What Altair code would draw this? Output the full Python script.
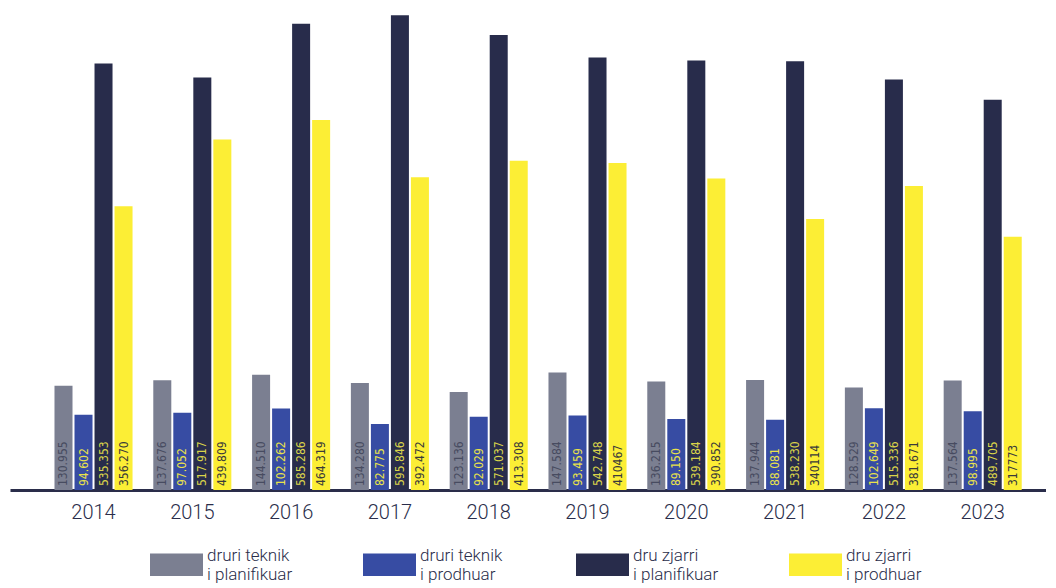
import altair as alt
import pandas as pd

years = ["2014", "2015", "2016", "2017", "2018", "2019", "2020", "2021", "2022", "2023"]
series = ["druri teknik\ni planifikuar", "druri teknik\ni prodhuar", "dru zjarri\ni planifikuar", "dru zjarri\ni prodhuar"]
gray_lbl = ["130.955", "137.676", "144.510", "134.280", "123.136", "147.584", "136.215", "137.944", "128.529", "137.564"]
blue_lbl = ["94.602", "97.052", "102.262", "82.775", "92.029", "93.459", "89.150", "88.081", "102.649", "98.995"]
dark_lbl = ["535.353", "517.917", "585.286", "595.846", "571.037", "542.748", "539.184", "538.230", "515.336", "489.705"]
yell_lbl = ["356.270", "439.809", "464.319", "392.472", "413.308", "410467", "390.852", "340114", "381.671", "317773"]
colors = ["#7b7f91", "#374ca3", "#282c4b", "#fcee35"]
text_colors = ["#474b60", "#e9e24a", "#d9d34a", "#3a3a3a"]

rows = []
for s, lbls, tc in zip(series, [gray_lbl, blue_lbl, dark_lbl, yell_lbl], text_colors):
    for y, l in zip(years, lbls):
        rows.append({"year": y, "series": s, "label": l,
                     "value": float(l.replace(".", "")) / 1000.0,
                     "base": 0.0, "tcolor": tc})
df = pd.DataFrame(rows)

x = alt.X("year:N", sort=years,
          scale=alt.Scale(paddingInner=0.21, paddingOuter=0.348, align=0.647),
          axis=alt.Axis(title=None, labelAngle=0, ticks=False, domainWidth=3,
                        domainColor="#2a2d4a", labelFont="Roboto", labelFontWeight=300,
                        labelFontSize=20, labelColor="#2a2d4a", labelPadding=12))
xo = alt.XOffset("series:N", sort=series, scale=alt.Scale(paddingInner=0.1, paddingOuter=0))
yscale = alt.Scale(domain=[0, 605], nice=False)

bars = alt.Chart(df).mark_bar().encode(
    x=x, xOffset=xo,
    y=alt.Y("value:Q", scale=yscale, axis=None),
    color=alt.Color("series:N", sort=series,
                    scale=alt.Scale(domain=series, range=colors),
                    legend=alt.Legend(title=None, orient="none", legendX=140, legendY=530,
                                      direction="horizontal", columns=4, gridAlign="all",
                                      columnPadding=70, labelOffset=4,
                                      labelFont="Roboto", labelFontWeight=300,
                                      labelFontSize=17, labelColor="#2a2d4a", labelLimit=250,
                                      labelBaseline="bottom",
                                      labelExpr="split(datum.label, '\\n')",
                                      symbolType="M-1,-0.42H1V0.42H-1Z", symbolSize=2809,
                                      symbolStrokeWidth=0, symbolOpacity=1, padding=0)),
)

texts = alt.Chart(df).mark_text(angle=270, align="left", baseline="middle", dx=4,
                                font="DejaVu Sans Condensed", fontSize=12).encode(
    x=x, xOffset=xo,
    y=alt.Y("base:Q", scale=yscale, axis=None),
    text="label:N",
    color=alt.Color("tcolor:N", scale=None),
)

chart = (bars + texts).properties(
    width=1036, height=482,
    padding={"left": 2, "top": 0, "right": 0, "bottom": 0},
).configure_view(stroke=None)

chart.save("out.html", embed_options={"renderer": "svg", "actions": False})
